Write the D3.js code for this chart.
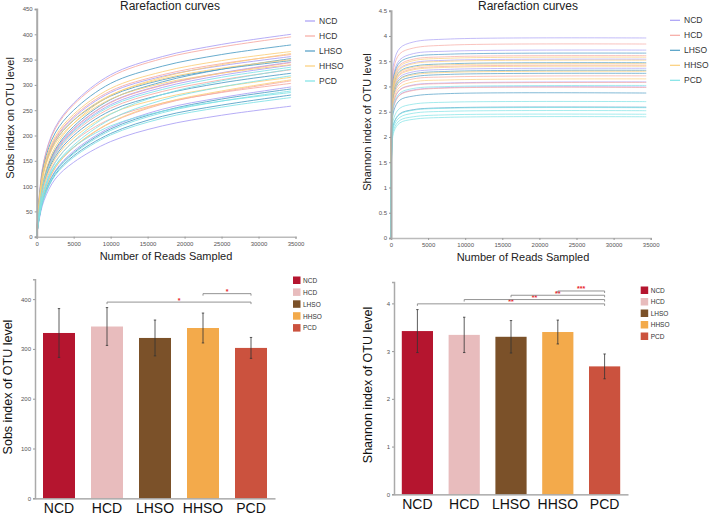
<!DOCTYPE html>
<html><head><meta charset="utf-8">
<script src="https://cdn.jsdelivr.net/npm/d3@7"></script>
<style>body{margin:0;background:#fff}svg{display:block;font-family:Arial,"Liberation Sans",sans-serif}</style>
</head><body><svg id="c" width="709" height="515"></svg>
<script>
const groups = ["NCD","HCD","LHSO","HHSO","PCD"];
const lineColors = ["#a99ff5","#f6a9a2","#4f9dc4","#fbcf7a","#7fe2e6"];
const barColors = ["#b5152f","#e8bcbd","#7b5129","#f3aa4b","#cb523e"];

// Sobs rarefaction curves (reads sampled -> observed OTUs)
const sobsDepths = [0,300,1000,2500,5000,10000,17000,25000,34400];
const sobsNCD = [[0,72,152,216,264,320,356,380,400],[0,64,135,192,235,285,317,338,356],[0,52,114,169,214,266,300,324,345],[0,51,112,166,210,261,295,319,339],[0,36,83,130,169,216,252,275,296],[0,31,72,114,147,188,219,240,258]];
const sobsHCD = [[0,71,150,213,261,316,352,375,395],[0,65,137,194,238,288,320,342,360],[0,52,114,169,213,265,299,323,344],[0,50,109,162,205,254,287,310,330],[0,37,86,136,176,225,262,286,308],[0,45,100,148,188,233,264,285,303]];
const sobsLHSO = [[0,68,144,205,250,303,337,360,379],[0,53,116,172,218,271,306,331,352],[0,63,132,188,230,278,310,331,348],[0,48,107,158,200,249,281,304,323],[0,35,82,128,166,213,248,272,292],[0,34,78,123,160,204,238,260,280]];
const sobsHHSO = [[0,66,139,198,242,293,326,348,366],[0,54,119,177,224,279,315,340,362],[0,63,133,189,231,280,312,333,350],[0,61,129,184,224,272,303,323,340],[0,47,104,154,195,243,274,296,315],[0,37,87,136,177,226,264,288,310]];
const sobsPCD = [[0,50,111,164,208,258,291,315,335],[0,40,93,146,189,242,281,308,331],[0,38,89,140,181,232,270,296,318],[0,35,81,127,164,210,245,268,288],[0,43,94,140,177,219,248,268,285],[0,33,77,121,157,201,234,256,275]];

// Shannon rarefaction curves
const shanDepths = [0,100,400,1200,3000,8000,34400];
const shanNCD = [[0,2.69,3.48,3.76,3.88,3.94,3.96],[0,2.53,3.27,3.53,3.65,3.70,3.72],[0,2.41,3.12,3.36,3.47,3.52,3.54],[0,2.28,2.96,3.19,3.29,3.34,3.36],[0,2.10,2.72,2.94,3.03,3.07,3.09],[0,2.03,2.63,2.84,2.93,2.98,2.99]];
const shanHCD = [[0,2.61,3.38,3.65,3.76,3.82,3.84],[0,2.45,3.18,3.43,3.54,3.59,3.61],[0,2.33,3.01,3.25,3.35,3.40,3.42],[0,2.18,2.82,3.05,3.15,3.19,3.21],[0,2.09,2.71,2.93,3.02,3.06,3.08],[0,2.03,2.62,2.83,2.92,2.97,2.98]];
const shanLHSO = [[0,2.49,3.22,3.48,3.59,3.64,3.66],[0,2.36,3.05,3.30,3.40,3.45,3.47],[0,2.26,2.92,3.15,3.25,3.30,3.32],[0,2.22,2.87,3.10,3.19,3.24,3.26],[0,1.95,2.53,2.73,2.81,2.86,2.87],[0,1.76,2.28,2.46,2.54,2.58,2.59]];
const shanHHSO = [[0,2.43,3.15,3.40,3.51,3.56,3.58],[0,2.39,3.10,3.34,3.45,3.50,3.52],[0,2.35,3.04,3.28,3.38,3.43,3.45],[0,2.31,2.99,3.23,3.33,3.38,3.40],[0,2.24,2.90,3.14,3.23,3.28,3.30],[0,2.14,2.77,2.99,3.09,3.13,3.15]];
const shanPCD = [[0,2.05,2.66,2.87,2.96,3.00,3.02],[0,1.84,2.38,2.57,2.65,2.69,2.70],[0,1.75,2.27,2.45,2.53,2.57,2.58],[0,1.71,2.22,2.39,2.47,2.51,2.52],[0,1.67,2.16,2.33,2.40,2.44,2.45],[0,1.63,2.11,2.28,2.35,2.39,2.40]];

// Bar charts (mean, sd)
const sobsMean = [332,345,322,342,302];
const sobsSD = [49,38,36,30,21];
const shanMean = [3.42,3.34,3.30,3.40,2.68];
const shanSD = [0.45,0.37,0.34,0.25,0.26];
const sobsSig = [["HCD","PCD",394,"*"],["HHSO","PCD",411,"*"]];
const shanSig = [["NCD","PCD",3.99,"**"],["HCD","PCD",4.08,"**"],["LHSO","PCD",4.17,"**"],["HHSO","PCD",4.26,"***"]];

const xTicks = [0,5000,10000,15000,20000,25000,30000,35000];
const sobsTicks = [0,50,100,150,200,250,300,350,400,450];
const shanTicks = [0,0.5,1,1.5,2,2.5,3,3.5,4,4.5];
const sobsBarTicks = [0,100,200,300,400];
const shanBarTicks = [0,1,2,3,4];

const svg = d3.select("#c");

function styleAxis(g, col, w){
  g.select(".domain").attr("stroke", col).attr("stroke-width", w);
  g.selectAll(".tick line").attr("stroke", "#999");
  g.selectAll(".tick text").attr("fill","#555").attr("font-size","6px").attr("font-family","Arial,'Liberation Sans',sans-serif");
}

function rarefaction(o){
  const x = d3.scaleLinear().domain([0,35000]).range([o.x0,o.x1]);
  const y = d3.scaleLinear().domain([0,o.ymax]).range([o.y0,o.y1]);
  const g = svg.append("g");
  const line = d3.line().x((d,i)=>x(o.depths[i])).y(d=>y(d)).curve(d3.curveCatmullRom.alpha(0.5));
  o.sets.forEach((set,gi)=>{
    set.forEach(vals=>{
      g.append("path").attr("d", line(vals)).attr("fill","none")
        .attr("stroke", lineColors[gi]).attr("stroke-width",1).attr("opacity",o.op);
    });
  });
  const ax = g.append("g").attr("transform",`translate(0,${o.y0})`)
    .call(d3.axisBottom(x).tickValues(xTicks).tickFormat(d=>String(d)).tickSize(2).tickPadding(3));
  styleAxis(ax,"#bbb",1.5);
  const ay = g.append("g").attr("transform",`translate(${o.x0},0)`)
    .call(d3.axisLeft(y).tickValues(o.yticks).tickFormat(d=>String(d)).tickSize(2).tickPadding(2));
  styleAxis(ay,"#aaa",2);
  g.append("text").attr("x",o.tx).attr("y",10).attr("text-anchor","middle").attr("font-size","12px").attr("fill","#222").text("Rarefaction curves");
  g.append("text").attr("x",o.xlx).attr("y",o.xly).attr("text-anchor","middle").attr("font-size","11px").attr("fill","#222").text("Number of Reads Sampled");
  g.append("text").attr("transform",`translate(${o.ylx},${o.yly}) rotate(-90)`).attr("text-anchor","middle").attr("dominant-baseline","central").attr("font-size","11px").attr("fill","#222").text(o.ylab);
  groups.forEach((n,i)=>{
    const yy = o.ly + i*15;
    g.append("line").attr("x1",o.lx).attr("x2",o.lx+10).attr("y1",yy).attr("y2",yy).attr("stroke",lineColors[i]).attr("stroke-width",1.2);
    g.append("text").attr("x",o.lx+14).attr("y",yy).attr("dominant-baseline","central").attr("font-size","8.5px").attr("fill","#333").text(n);
  });
}

rarefaction({x0:36.7,x1:295.5,y0:236.7,y1:9,ymax:450,depths:sobsDepths,sets:[sobsNCD,sobsHCD,sobsLHSO,sobsHHSO,sobsPCD],op:0.85,
  yticks:sobsTicks,tx:170,xlx:166,xly:260,ylx:10,yly:118,ylab:"Sobs index on OTU level",lx:305,ly:21});
rarefaction({x0:391,x1:650.7,y0:238,y1:10.7,ymax:4.5,depths:shanDepths,sets:[shanNCD,shanHCD,shanLHSO,shanHHSO,shanPCD],op:0.7,
  yticks:shanTicks,tx:528,xlx:523,xly:261,ylx:367,yly:122,ylab:"Shannon index of OTU level",lx:670,ly:20.3});

function bars(o){
  const x = d3.scaleBand().domain(groups).range([o.x0,o.x1]).paddingInner(1/3).paddingOuter(1/6);
  const y = d3.scaleLinear().domain([0,o.ymax]).range([o.y0,o.y1]);
  const g = svg.append("g");
  g.selectAll("rect.bar").data(groups).join("rect")
    .attr("x",d=>x(d)).attr("width",x.bandwidth())
    .attr("y",(d,i)=>y(o.mean[i])).attr("height",(d,i)=>y(0)-y(o.mean[i]))
    .attr("fill",(d,i)=>barColors[i]);
  groups.forEach((d,i)=>{
    const cx = x(d)+x.bandwidth()/2;
    const t = y(o.mean[i]+o.sd[i]), b = y(o.mean[i]-o.sd[i]);
    g.append("line").attr("x1",cx).attr("x2",cx).attr("y1",t).attr("y2",b).attr("stroke","#333").attr("stroke-width",0.8);
    [t,b].forEach(v=>g.append("line").attr("x1",cx-1.2).attr("x2",cx+1.2).attr("y1",v).attr("y2",v).attr("stroke","#333").attr("stroke-width",0.8));
  });
  o.sig.forEach(s=>{
    const a = x(s[0])+x.bandwidth()/2, c = x(s[1])+x.bandwidth()/2, yy = y(s[2]);
    g.append("path").attr("d",`M${a},${yy+2}V${yy}H${c}V${yy+2}`).attr("fill","none").attr("stroke","#888").attr("stroke-width",0.9);
    g.append("text").attr("x",(a+c)/2).attr("y",yy+0.5).attr("text-anchor","middle").attr("font-size","7px").attr("font-weight","bold").attr("fill","#e8262b").text(s[3]);
  });
  const ax = g.append("g").attr("transform",`translate(0,${o.y0})`).call(d3.axisBottom(x).tickSize(0).tickPadding(4));
  ax.select(".domain").attr("stroke","#999").attr("stroke-width",1.2);
  ax.selectAll(".tick text").attr("font-size","14px").attr("fill","#111").attr("font-family","Arial,'Liberation Sans',sans-serif").attr("dy","0.8em");
  const ay = g.append("g").attr("transform",`translate(${o.x0},0)`)
    .call(d3.axisLeft(y).tickValues(o.yticks).tickFormat(d=>String(d)).tickSize(2).tickPadding(2));
  styleAxis(ay,"#aaa",1.5);
  g.append("text").attr("transform",`translate(${o.ylx},${o.yly}) rotate(-90)`).attr("text-anchor","middle").attr("dominant-baseline","central").attr("font-size","12.5px").attr("fill","#111").text(o.ylab);
  groups.forEach((n,i)=>{
    const yy = o.ly + i*o.ls;
    g.append("rect").attr("x",o.lx).attr("y",yy-3.8).attr("width",7.5).attr("height",7.5).attr("fill",barColors[i]);
    g.append("text").attr("x",o.lx+10).attr("y",yy).attr("dominant-baseline","central").attr("font-size","6.5px").attr("fill","#333").text(n);
  });
}

bars({x0:35,x1:275,y0:498.3,y1:279.2,ymax:440,mean:sobsMean,sd:sobsSD,sig:sobsSig,yticks:sobsBarTicks,ylx:8,yly:387,ylab:"Sobs index of OTU level",lx:293,ly:280.3,ls:11.9});
bars({x0:394,x1:628,y0:494.3,y1:281.9,ymax:4.45,mean:shanMean,sd:shanSD,sig:shanSig,yticks:shanBarTicks,ylx:368,yly:385,ylab:"Shannon index of OTU level",lx:640.7,ly:290.3,ls:11.5});
</script></body></html>
